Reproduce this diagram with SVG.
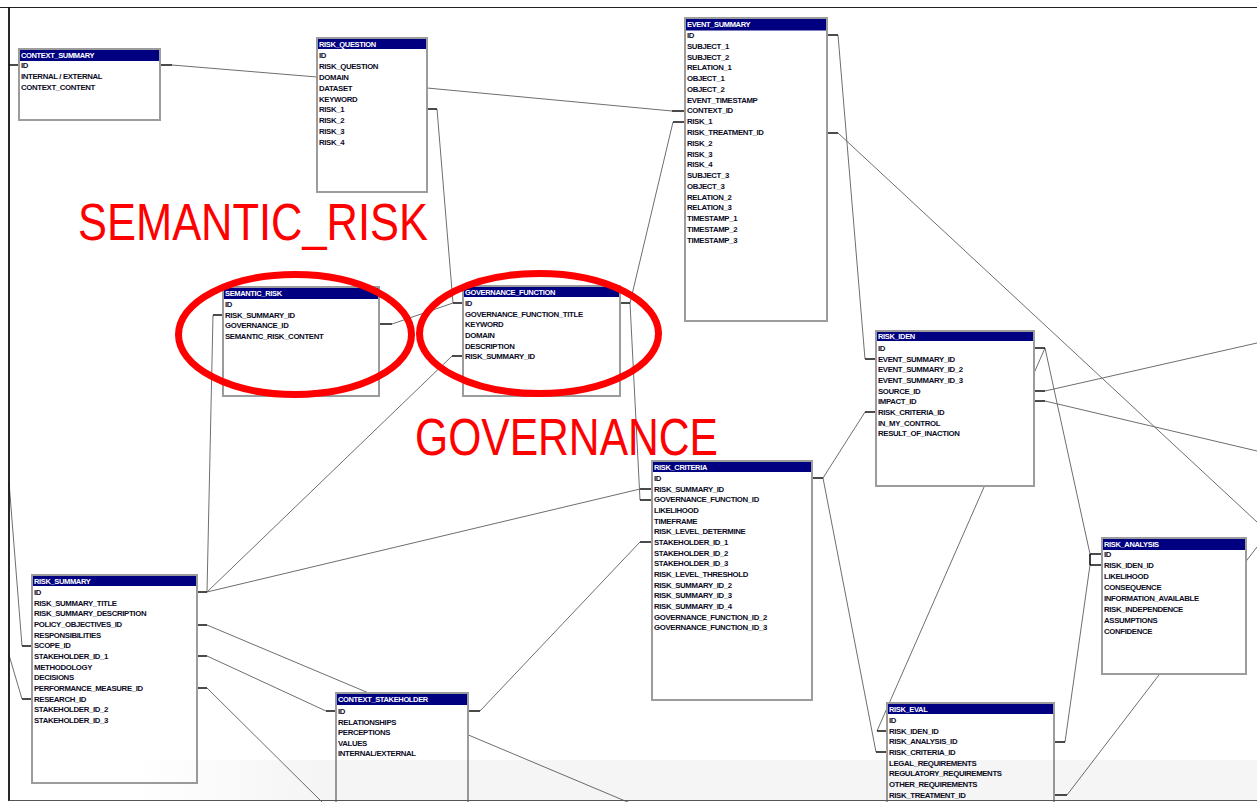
<svg xmlns="http://www.w3.org/2000/svg" width="1257" height="802" viewBox="0 0 1257 802">
<defs>
<style>
.body{fill:#fff;stroke:#9c9c9c;stroke-width:2}
.hd{fill:#000080}
.ht{font-family:"Liberation Sans",Arial,sans-serif;font-size:7.5px;font-weight:bold;fill:#fff;letter-spacing:-0.35px}
.rt{font-family:"Liberation Sans",Arial,sans-serif;font-size:7.8px;font-weight:bold;fill:#0b0b25;letter-spacing:-0.35px}
.ln{fill:none;stroke:#6e6e6e;stroke-width:1}
.st{fill:none;stroke:#111;stroke-width:1.6}
.red{fill:none;stroke:#ff0000;stroke-width:7}
.rtxt{font-family:"Liberation Sans",Arial,sans-serif;font-size:52px;fill:#ff0000}
</style>
<linearGradient id="band" x1="0" y1="0" x2="1" y2="0">
<stop offset="0.1" stop-color="#000" stop-opacity="0"/>
<stop offset="0.25" stop-color="#000" stop-opacity="0.04"/>
<stop offset="1" stop-color="#000" stop-opacity="0.04"/>
</linearGradient>
</defs>
<rect x="0" y="0" width="1257" height="802" fill="#fff"/>

<g id="connectors">
<path class="ln" d="M172,65 L317,77"/>
<path class="ln" d="M427,88 L672,111"/>
<path class="ln" d="M437,109 L453,303"/>
<path class="ln" d="M392,324 L453,303"/>
<path class="ln" d="M673,122 L630,303"/>
<path class="ln" d="M630,303 L640,500"/>
<path class="ln" d="M207,592 L640,489"/>
<path class="ln" d="M207,592 L213,315"/>
<path class="ln" d="M207,592 L452,356"/>
<path class="ln" d="M838,35 L865,359"/>
<path class="ln" d="M838,133 L1257,522"/>
<path class="ln" d="M1045,348 L877,731"/>
<path class="ln" d="M1045,348 L1090,554"/>
<path class="ln" d="M1090,565 L1065,742"/>
<path class="ln" d="M1045,391 L1257,343"/>
<path class="ln" d="M1045,401 L1257,451"/>
<path class="ln" d="M865,412 L823,478"/>
<path class="ln" d="M823,478 L876,752"/>
<path class="ln" d="M1067,795 L1257,547"/>
<path class="ln" d="M207,625 L630,803"/>
<path class="ln" d="M207,656 L326,711"/>
<path class="ln" d="M207,688 L322,802"/>
<path class="ln" d="M9,482 L22,646"/>
<path class="ln" d="M9,655 L22,699"/>
<path class="ln" d="M480,711 L640,542"/>
<path class="st" d="M9,65 H19 M160,65 H172 M672,111 H685 M427,109 H437 M453,303 H463 M379,324 H392 M673,122 H685 M620,303 H630 M640,500 H652 M197,592 H207 M640,489 H652 M213,315 H223 M452,356 H463 M827,35 H838 M865,359 H876 M827,133 H838 M1034,348 H1045 M877,731 H887 M1090,554 H1102 M1090,565 H1102 M1090,554 V565 M1054,742 H1065 M1034,391 H1045 M1034,401 H1045 M865,412 H876 M812,478 H823 M876,752 H887 M1054,795 H1067 M197,625 H207 M197,656 H207 M326,711 H336 M197,688 H207 M22,646 H32 M22,699 H32 M468,711 H480 M640,542 H652"/>
</g>

<g id="context_summary">
<rect class="body" x="19" y="49" width="141" height="71"/>
<rect class="hd" x="20" y="50" width="139" height="11"/>
<text class="ht" x="21" y="58">CONTEXT_SUMMARY</text>
<text class="rt" x="21" y="68.3">ID</text>
<text class="rt" x="21" y="79.1">INTERNAL / EXTERNAL</text>
<text class="rt" x="21" y="89.9">CONTEXT_CONTENT</text>
</g>

<g id="risk_question">
<rect class="body" x="317" y="38" width="110" height="154"/>
<rect class="hd" x="318" y="39" width="108" height="10"/>
<text class="ht" x="319" y="46.5">RISK_QUESTION</text>
<text class="rt" x="319" y="58.3">ID</text>
<text class="rt" x="319" y="69.1">RISK_QUESTION</text>
<text class="rt" x="319" y="79.9">DOMAIN</text>
<text class="rt" x="319" y="90.7">DATASET</text>
<text class="rt" x="319" y="101.5">KEYWORD</text>
<text class="rt" x="319" y="112.3">RISK_1</text>
<text class="rt" x="319" y="123.1">RISK_2</text>
<text class="rt" x="319" y="133.9">RISK_3</text>
<text class="rt" x="319" y="144.7">RISK_4</text>
</g>

<g id="event_summary">
<rect class="body" x="685" y="18" width="142" height="303"/>
<rect class="hd" x="686" y="19" width="140" height="11.5"/>
<text class="ht" x="687" y="27">EVENT_SUMMARY</text>
<text class="rt" x="687" y="38">ID</text>
<text class="rt" x="687" y="48.8">SUBJECT_1</text>
<text class="rt" x="687" y="59.5">SUBJECT_2</text>
<text class="rt" x="687" y="70.3">RELATION_1</text>
<text class="rt" x="687" y="81.1">OBJECT_1</text>
<text class="rt" x="687" y="91.9">OBJECT_2</text>
<text class="rt" x="687" y="102.6">EVENT_TIMESTAMP</text>
<text class="rt" x="687" y="113.4">CONTEXT_ID</text>
<text class="rt" x="687" y="124.2">RISK_1</text>
<text class="rt" x="687" y="134.9">RISK_TREATMENT_ID</text>
<text class="rt" x="687" y="145.7">RISK_2</text>
<text class="rt" x="687" y="156.5">RISK_3</text>
<text class="rt" x="687" y="167.2">RISK_4</text>
<text class="rt" x="687" y="178">SUBJECT_3</text>
<text class="rt" x="687" y="188.8">OBJECT_3</text>
<text class="rt" x="687" y="199.6">RELATION_2</text>
<text class="rt" x="687" y="210.3">RELATION_3</text>
<text class="rt" x="687" y="221.1">TIMESTAMP_1</text>
<text class="rt" x="687" y="231.9">TIMESTAMP_2</text>
<text class="rt" x="687" y="242.6">TIMESTAMP_3</text>
</g>

<g id="semantic_risk">
<rect class="body" x="223" y="287" width="156" height="109"/>
<rect class="hd" x="224" y="288" width="154" height="11"/>
<text class="ht" x="225" y="296">SEMANTIC_RISK</text>
<text class="rt" x="225" y="307">ID</text>
<text class="rt" x="225" y="317.7">RISK_SUMMARY_ID</text>
<text class="rt" x="225" y="328.4">GOVERNANCE_ID</text>
<text class="rt" x="225" y="339.1">SEMANTIC_RISK_CONTENT</text>
</g>

<g id="governance_function">
<rect class="body" x="463" y="286" width="157" height="110"/>
<rect class="hd" x="464" y="287" width="155" height="10"/>
<text class="ht" x="465" y="294.5">GOVERNANCE_FUNCTION</text>
<text class="rt" x="465" y="306">ID</text>
<text class="rt" x="465" y="316.7">GOVERNANCE_FUNCTION_TITLE</text>
<text class="rt" x="465" y="327.3">KEYWORD</text>
<text class="rt" x="465" y="338">DOMAIN</text>
<text class="rt" x="465" y="348.6">DESCRIPTION</text>
<text class="rt" x="465" y="359.3">RISK_SUMMARY_ID</text>
</g>

<g id="risk_iden">
<rect class="body" x="876" y="331" width="158" height="155"/>
<rect class="hd" x="877" y="332" width="156" height="9"/>
<text class="ht" x="878" y="339">RISK_IDEN</text>
<text class="rt" x="878" y="351">ID</text>
<text class="rt" x="878" y="361.7">EVENT_SUMMARY_ID</text>
<text class="rt" x="878" y="372.3">EVENT_SUMMARY_ID_2</text>
<text class="rt" x="878" y="383">EVENT_SUMMARY_ID_3</text>
<text class="rt" x="878" y="393.6">SOURCE_ID</text>
<text class="rt" x="878" y="404.3">IMPACT_ID</text>
<text class="rt" x="878" y="414.9">RISK_CRITERIA_ID</text>
<text class="rt" x="878" y="425.6">IN_MY_CONTROL</text>
<text class="rt" x="878" y="436.2">RESULT_OF_INACTION</text>
</g>

<g id="risk_criteria">
<rect class="body" x="652" y="461" width="160" height="239"/>
<rect class="hd" x="653" y="462" width="158" height="10"/>
<text class="ht" x="654" y="469.5">RISK_CRITERIA</text>
<text class="rt" x="654" y="481">ID</text>
<text class="rt" x="654" y="491.7">RISK_SUMMARY_ID</text>
<text class="rt" x="654" y="502.3">GOVERNANCE_FUNCTION_ID</text>
<text class="rt" x="654" y="513">LIKELIHOOD</text>
<text class="rt" x="654" y="523.6">TIMEFRAME</text>
<text class="rt" x="654" y="534.3">RISK_LEVEL_DETERMINE</text>
<text class="rt" x="654" y="544.9">STAKEHOLDER_ID_1</text>
<text class="rt" x="654" y="555.6">STAKEHOLDER_ID_2</text>
<text class="rt" x="654" y="566.2">STAKEHOLDER_ID_3</text>
<text class="rt" x="654" y="576.9">RISK_LEVEL_THRESHOLD</text>
<text class="rt" x="654" y="587.5">RISK_SUMMARY_ID_2</text>
<text class="rt" x="654" y="598.2">RISK_SUMMARY_ID_3</text>
<text class="rt" x="654" y="608.8">RISK_SUMMARY_ID_4</text>
<text class="rt" x="654" y="619.5">GOVERNANCE_FUNCTION_ID_2</text>
<text class="rt" x="654" y="630.1">GOVERNANCE_FUNCTION_ID_3</text>
</g>

<g id="risk_summary">
<rect class="body" x="32" y="575" width="165" height="208"/>
<rect class="hd" x="33" y="576" width="163" height="10"/>
<text class="ht" x="34" y="583.5">RISK_SUMMARY</text>
<text class="rt" x="34" y="595">ID</text>
<text class="rt" x="34" y="605.7">RISK_SUMMARY_TITLE</text>
<text class="rt" x="34" y="616.3">RISK_SUMMARY_DESCRIPTION</text>
<text class="rt" x="34" y="627">POLICY_OBJECTIVES_ID</text>
<text class="rt" x="34" y="637.7">RESPONSIBILITIES</text>
<text class="rt" x="34" y="648.4">SCOPE_ID</text>
<text class="rt" x="34" y="659">STAKEHOLDER_ID_1</text>
<text class="rt" x="34" y="669.7">METHODOLOGY</text>
<text class="rt" x="34" y="680.4">DECISIONS</text>
<text class="rt" x="34" y="691">PERFORMANCE_MEASURE_ID</text>
<text class="rt" x="34" y="701.7">RESEARCH_ID</text>
<text class="rt" x="34" y="712.4">STAKEHOLDER_ID_2</text>
<text class="rt" x="34" y="723">STAKEHOLDER_ID_3</text>
</g>

<g id="context_stakeholder">
<rect class="body" x="336" y="693" width="132" height="120"/>
<rect class="hd" x="337" y="694" width="130" height="11"/>
<text class="ht" x="338" y="702">CONTEXT_STAKEHOLDER</text>
<text class="rt" x="338" y="714">ID</text>
<text class="rt" x="338" y="724.6">RELATIONSHIPS</text>
<text class="rt" x="338" y="735.2">PERCEPTIONS</text>
<text class="rt" x="338" y="745.8">VALUES</text>
<text class="rt" x="338" y="756.4">INTERNAL/EXTERNAL</text>
</g>

<g id="risk_eval">
<rect class="body" x="887" y="703" width="167" height="110"/>
<rect class="hd" x="888" y="704" width="165" height="10"/>
<text class="ht" x="889" y="711.5">RISK_EVAL</text>
<text class="rt" x="889" y="723">ID</text>
<text class="rt" x="889" y="733.7">RISK_IDEN_ID</text>
<text class="rt" x="889" y="744.3">RISK_ANALYSIS_ID</text>
<text class="rt" x="889" y="755">RISK_CRITERIA_ID</text>
<text class="rt" x="889" y="765.7">LEGAL_REQUIREMENTS</text>
<text class="rt" x="889" y="776.4">REGULATORY_REQUIREMENTS</text>
<text class="rt" x="889" y="787">OTHER_REQUIREMENTS</text>
<text class="rt" x="889" y="797.7">RISK_TREATMENT_ID</text>
</g>

<g id="risk_analysis">
<rect class="body" x="1102" y="538" width="144" height="136"/>
<rect class="hd" x="1103" y="539" width="142" height="11"/>
<text class="ht" x="1104" y="547">RISK_ANALYSIS</text>
<text class="rt" x="1104" y="557">ID</text>
<text class="rt" x="1104" y="568">RISK_IDEN_ID</text>
<text class="rt" x="1104" y="579">LIKELIHOOD</text>
<text class="rt" x="1104" y="590">CONSEQUENCE</text>
<text class="rt" x="1104" y="601">INFORMATION_AVAILABLE</text>
<text class="rt" x="1104" y="612">RISK_INDEPENDENCE</text>
<text class="rt" x="1104" y="623">ASSUMPTIONS</text>
<text class="rt" x="1104" y="634">CONFIDENCE</text>
</g>

<g id="annotations">
<ellipse class="red" cx="295" cy="334.5" rx="116.5" ry="60"/>
<ellipse class="red" cx="539" cy="333.5" rx="119.5" ry="60"/>
<text class="rtxt" x="78" y="240" textLength="350" lengthAdjust="spacingAndGlyphs">SEMANTIC_RISK</text>
<text class="rtxt" x="415" y="455" textLength="303" lengthAdjust="spacingAndGlyphs">GOVERNANCE</text>
</g>

<g id="frame">
<rect x="9" y="760" width="1248" height="40" fill="url(#band)"/>
<path d="M0,7.5 H1257" stroke="#222" stroke-width="1.2" fill="none"/>
<path d="M9,7 V801" stroke="#111" stroke-width="1.8" fill="none"/>
<path d="M9,800.5 H1257" stroke="#555" stroke-width="1.2" fill="none"/>
</g>
</svg>
